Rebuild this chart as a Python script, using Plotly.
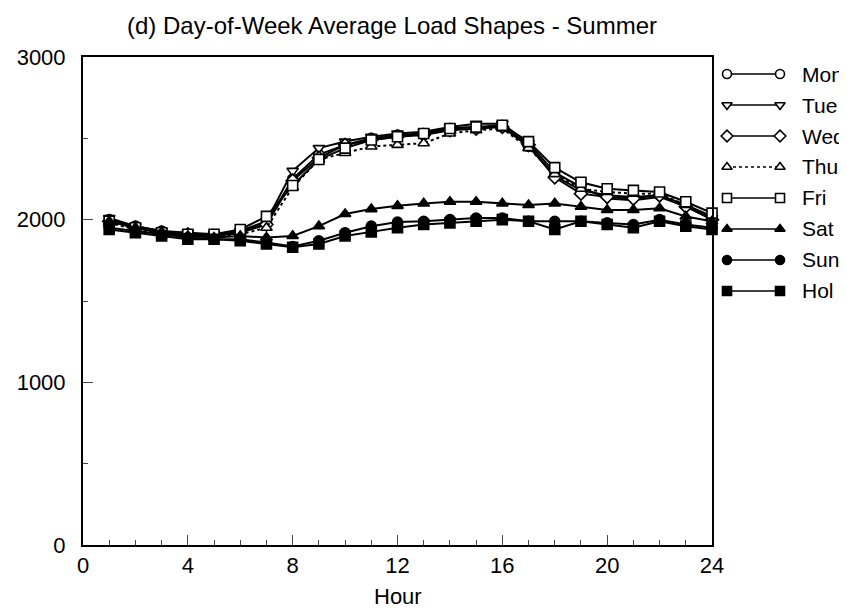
import plotly.graph_objects as go

# Summer day-of-week average load shapes
hours = list(range(1, 25))

mon = [2000, 1960, 1930, 1910, 1900, 1920, 1980, 2250, 2400, 2460, 2500, 2520,
       2530, 2560, 2570, 2570, 2450, 2270, 2180, 2150, 2140, 2150, 2090, 2020]
tue = [2010, 1960, 1930, 1920, 1910, 1930, 1990, 2300, 2440, 2480, 2510, 2530,
       2540, 2570, 2590, 2590, 2470, 2290, 2200, 2130, 2120, 2140, 2080, 2010]
wed = [1990, 1950, 1920, 1910, 1900, 1920, 1970, 2240, 2380, 2460, 2490, 2510,
       2520, 2550, 2560, 2570, 2460, 2260, 2160, 2140, 2130, 2150, 2080, 2000]
thu = [1980, 1940, 1920, 1900, 1890, 1910, 1950, 2200, 2370, 2410, 2450, 2460,
       2470, 2530, 2550, 2560, 2440, 2280, 2190, 2170, 2160, 2160, 2090, 2010]
fri = [1990, 1950, 1920, 1910, 1910, 1940, 2020, 2210, 2370, 2440, 2490, 2510,
       2530, 2560, 2570, 2580, 2480, 2320, 2230, 2190, 2180, 2170, 2110, 2040]
sat = [1990, 1950, 1920, 1900, 1890, 1900, 1890, 1900, 1960, 2035, 2065, 2085,
       2100, 2110, 2110, 2100, 2090, 2100, 2080, 2060, 2060, 2070, 2020, 1990]
sun = [1950, 1930, 1910, 1890, 1880, 1880, 1860, 1835, 1870, 1920, 1960, 1985,
       1990, 2000, 2010, 2010, 1990, 1990, 1990, 1980, 1970, 2000, 1970, 1950]
hol = [1940, 1920, 1900, 1880, 1880, 1870, 1850, 1830, 1850, 1900, 1925, 1950,
       1970, 1980, 1990, 2000, 1990, 1940, 1990, 1970, 1950, 1990, 1960, 1940]

# name, values, marker symbol, filled?, dash
series = [
    ("Mon", mon, "circle", False, "solid"),
    ("Tue", tue, "triangle-down", False, "solid"),
    ("Wed", wed, "diamond", False, "solid"),
    ("Thu", thu, "triangle-up", False, "dot"),
    ("Fri", fri, "square", False, "solid"),
    ("Sat", sat, "triangle-up", True, "solid"),
    ("Sun", sun, "circle", True, "solid"),
    ("Hol", hol, "square", True, "solid"),
]

FONT = "Liberation Sans, Arial, sans-serif"
W, H = 847, 613
# page body adds an 8px offset, so layout pixels sit 8px up/left of the screen
L, R, T, B = 75, 0, 49, 76
pw, ph = W - L - R, H - T - B
plot_right = 704          # right edge of the plot frame (px)
key_l, key_r = 719, 772   # legend sample line, left/right end (px)

def px(x):
    return (x - L) / pw

fig = go.Figure()
for i, (name, vals, sym, filled, dash) in enumerate(series):
    mk = dict(symbol=sym, size=10, color="black" if filled else "white",
              line=dict(color="black", width=1.6))
    fig.add_trace(go.Scatter(
        x=hours, y=vals, mode="lines+markers", name=name, showlegend=False,
        line=dict(color="black", width=2, dash=dash), marker=mk,
        cliponaxis=False,
    ))
    # hand-drawn key entry: short line with the marker at both ends
    fig.add_trace(go.Scatter(
        x=[0, 1], y=[i, i], xaxis="x2", yaxis="y2", mode="lines+markers",
        showlegend=False, hoverinfo="skip", cliponaxis=False,
        line=dict(color="black", width=1.5, dash=dash),
        marker=dict(mk, size=9),
    ))
    fig.add_annotation(x=1, y=i, xref="x2", yref="y2", text=name,
                       showarrow=False, xanchor="left", xshift=20,
                       font=dict(size=21))

# x axis title placed as text so it stays inside the page
fig.add_annotation(text="Hour", xref="paper", x=px(plot_right) / 2,
                   yref="paper", y=-(588 - (H - B)) / ph, yanchor="middle",
                   showarrow=False, font=dict(size=22))

axis_common = dict(showgrid=False, zeroline=False, showline=True,
                   linecolor="black", linewidth=2, mirror=True, ticks="inside")

fig.update_layout(
    width=W, height=H,
    paper_bgcolor="white", plot_bgcolor="white",
    margin=dict(l=L, r=R, t=T, b=B, autoexpand=False),
    font=dict(family=FONT, size=22, color="black"),
    title=dict(text="(d) Day-of-Week Average Load Shapes - Summer",
               x=384 / W, xref="container", xanchor="center",
               y=1 - 18 / H, yref="container", yanchor="middle",
               font=dict(size=24)),
    xaxis=dict(axis_common, domain=[0, px(plot_right)], range=[0, 24],
               tickvals=[0, 4, 8, 12, 16, 20, 24], ticklen=10,
               ticklabelstandoff=0,
               minor=dict(tickvals=hours, ticks="inside", ticklen=5)),
    yaxis=dict(axis_common, range=[0, 3000], tickvals=[0, 1000, 2000, 3000],
               ticklen=10, ticklabelstandoff=11,
               minor=dict(tickvals=[500, 1500, 2500], ticks="inside", ticklen=5)),
    xaxis2=dict(domain=[px(key_l), px(key_r)], range=[0, 1], visible=False,
                anchor="y2"),
    yaxis2=dict(domain=[0, 1], range=[15.2, -0.55], visible=False, anchor="x2"),
)

fig.write_html("out.html")
